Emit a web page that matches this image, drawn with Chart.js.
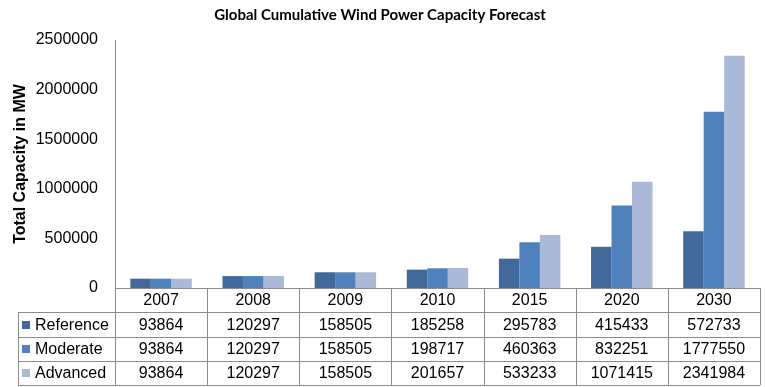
<!DOCTYPE html>
<html>
<head>
<meta charset="utf-8">
<script src="https://cdn.jsdelivr.net/npm/chart.js@4.4.1/dist/chart.umd.min.js"></script>
<style>
  html, body { margin: 0; padding: 0; background: #fff; }
  #wrap { width: 765px; height: 387px; }
</style>
</head>
<body>
<div id="wrap"><canvas id="chart" width="765" height="387"></canvas></div>
<script>
const years     = ['2007', '2008', '2009', '2010', '2015', '2020', '2030'];
const reference = [93864, 120297, 158505, 185258, 295783, 415433, 572733];
const moderate  = [93864, 120297, 158505, 198717, 460363, 832251, 1777550];
const advanced  = [93864, 120297, 158505, 201657, 533233, 1071415, 2341984];

const seriesNames  = ['Reference', 'Moderate', 'Advanced'];
const seriesColors = ['#416a9b', '#4f81bd', '#aab9d7'];
const seriesData   = [reference, moderate, advanced];

const lineCol = '#8c8c8c';
const tableFont = '16px "Liberation Sans", Arial, sans-serif';

// draws the data table under the plot, column positions come from the x scale
const dataTable = {
  id: 'dataTable',
  afterDraw(chart) {
    const { ctx, chartArea } = chart;
    const x = chart.scales.x;
    const top = chartArea.bottom;
    const rowH = [24, 25, 24, 24];
    const rows = [top];
    rowH.forEach(h => rows.push(rows[rows.length - 1] + h));
    const left = 18, right = chartArea.right;
    const half = (x.getPixelForValue(1) - x.getPixelForValue(0)) / 2;

    ctx.save();
    ctx.strokeStyle = lineCol;
    ctx.lineWidth = 1;
    ctx.beginPath();
    // horizontal lines
    ctx.moveTo(chartArea.left, rows[0] + 0.5); ctx.lineTo(right, rows[0] + 0.5);
    for (let i = 1; i < rows.length; i++) {
      ctx.moveTo(left, rows[i] + 0.5); ctx.lineTo(right, rows[i] + 0.5);
    }
    // vertical lines
    ctx.moveTo(left + 0.5, rows[1]); ctx.lineTo(left + 0.5, rows[4]);
    ctx.moveTo(chartArea.left + 0.5, chartArea.top); ctx.lineTo(chartArea.left + 0.5, rows[4]);
    years.forEach((y, i) => {
      const px = Math.round(x.getPixelForValue(i) + half) + 0.5;
      ctx.moveTo(px, rows[0]); ctx.lineTo(px, rows[4]);
    });
    ctx.stroke();

    ctx.font = tableFont;
    ctx.fillStyle = '#000';
    ctx.textBaseline = 'middle';
    ctx.textAlign = 'center';
    years.forEach((y, i) => {
      const cx = x.getPixelForValue(i);
      ctx.fillText(y, cx, (rows[0] + rows[1]) / 2 + 1);
      seriesData.forEach((arr, s) => {
        ctx.fillText(String(arr[i]), cx, (rows[s + 1] + rows[s + 2]) / 2 + 1);
      });
    });
    ctx.textAlign = 'left';
    seriesNames.forEach((name, s) => {
      const cy = (rows[s + 1] + rows[s + 2]) / 2;
      ctx.fillStyle = seriesColors[s];
      ctx.fillRect(22, Math.round(cy) - 4, 8, 8);
      ctx.fillStyle = '#000';
      ctx.fillText(name, 35, cy + 1);
    });
    ctx.restore();
  }
};

new Chart(document.getElementById('chart'), {
  type: 'bar',
  data: {
    labels: years,
    datasets: seriesNames.map((name, s) => ({
      label: name,
      data: seriesData[s],
      backgroundColor: seriesColors[s],
      borderWidth: 0,
      categoryPercentage: 0.667,
      barPercentage: 1.0
    }))
  },
  options: {
    responsive: false,
    animation: false,
    layout: { padding: { top: 0, right: 5, bottom: 99, left: 0 } },
    plugins: {
      legend: { display: false },
      tooltip: { enabled: false },
      title: {
        display: true,
        text: 'Global Cumulative Wind Power Capacity Forecast',
        color: '#000',
        font: { family: 'Lato, "Open Sans", sans-serif', size: 15, weight: 'bold' },
        padding: { top: 6, bottom: 16 }
      }
    },
    scales: {
      x: {
        display: false
      },
      y: {
        min: 0,
        max: 2500000,
        ticks: {
          stepSize: 500000,
          color: '#000',
          padding: 17,
          font: { family: '"Liberation Sans", Arial, sans-serif', size: 16 },
          callback: v => String(v)
        },
        grid: { display: false, drawTicks: false },
        border: { display: true, color: lineCol },
        title: {
          display: true,
          text: 'Total Capacity in MW',
          color: '#000',
          padding: { top: 11, bottom: 0 },
          font: { family: '"Liberation Sans", Arial, sans-serif', size: 16, weight: 'bold' }
        },
        afterFit(scale) { scale.width = 115; }
      }
    }
  },
  plugins: [dataTable]
});
</script>
</body>
</html>
